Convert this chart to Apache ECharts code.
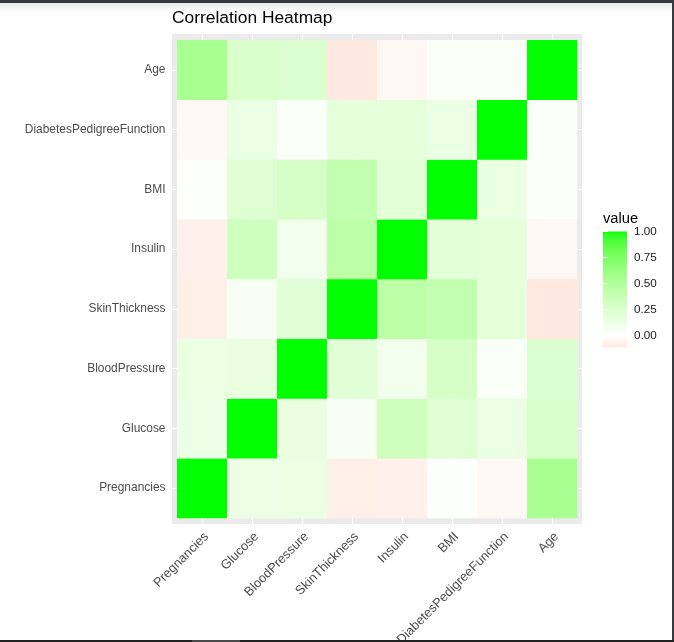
<!DOCTYPE html>
<html>
<head>
<meta charset="utf-8">
<script src="https://cdn.jsdelivr.net/npm/echarts@6/dist/echarts.min.js"></script>
<style>
html,body{margin:0;padding:0;background:#fff;}
#chart{width:674px;height:642px;}
</style>
</head>
<body>
<div id="chart"></div>
<script>
// ---- data ----
const variables = ['Pregnancies','Glucose','BloodPressure','SkinThickness','Insulin','BMI','DiabetesPedigreeFunction','Age'];
const pregnancies   = [1.000, 0.129, 0.141, -0.082, -0.074, 0.018, -0.034,  0.544];
const glucose       = [0.129, 1.000, 0.153,  0.057,  0.331, 0.221,  0.137,  0.264];
const bloodPressure = [0.141, 0.153, 1.000,  0.207,  0.089, 0.282,  0.041,  0.240];
const skinThickness = [-0.082, 0.057, 0.207, 1.000,  0.437, 0.393,  0.184, -0.114];
const insulin       = [-0.074, 0.331, 0.089, 0.437,  1.000, 0.198,  0.185, -0.042];
const bmi           = [0.018, 0.221, 0.282,  0.393,  0.198, 1.000,  0.141,  0.036];
const dpf           = [-0.034, 0.137, 0.041, 0.184,  0.185, 0.141,  1.000,  0.034];
const age           = [0.544, 0.264, 0.240, -0.114, -0.042, 0.036,  0.034,  1.000];
const legendTicks   = [0, 0.25, 0.5, 0.75, 1];

const rows = [pregnancies, glucose, bloodPressure, skinThickness, insulin, bmi, dpf, age];
const cells = [];
rows.forEach((row, yi) => row.forEach((v, xi) => cells.push([xi, yi, v])));
const allVals = cells.map(c => c[2]);
const vMin = Math.min.apply(null, allVals), vMax = Math.max.apply(null, allVals);
const idx = variables.map((_, i) => i);

// ---- colour scale: ggplot2 gradient2 (red - white - green) in Lab ----
function lin(c){c/=255;return c<=0.04045?c/12.92:Math.pow((c+0.055)/1.055,2.4);}
function delin(c){c=c<=0.0031308?12.92*c:1.055*Math.pow(c,1/2.4)-0.055;return Math.max(0,Math.min(255,Math.round(c*255)));}
const WN=[0.95047,1,1.08883];
function f(t){return t>0.008856?Math.cbrt(t):7.787*t+16/116;}
function finv(t){return t*t*t>0.008856?t*t*t:(t-16/116)/7.787;}
function rgb2lab(rgb){
  const r=lin(rgb[0]),g=lin(rgb[1]),b=lin(rgb[2]);
  const X=(0.4124564*r+0.3575761*g+0.1804375*b)/WN[0];
  const Y=(0.2126729*r+0.7151522*g+0.0721750*b)/WN[1];
  const Z=(0.0193339*r+0.1191920*g+0.9503041*b)/WN[2];
  return [116*f(Y)-16,500*(f(X)-f(Y)),200*(f(Y)-f(Z))];
}
function lab2rgb(lab){
  const fy=(lab[0]+16)/116, fx=fy+lab[1]/500, fz=fy-lab[2]/200;
  const X=finv(fx)*WN[0],Y=finv(fy)*WN[1],Z=finv(fz)*WN[2];
  const r=3.2404542*X-1.5371385*Y-0.4985314*Z;
  const g=-0.9692660*X+1.8760108*Y+0.0415560*Z;
  const b=0.0556434*X-0.2040259*Y+1.0572252*Z;
  return 'rgb('+delin(r)+','+delin(g)+','+delin(b)+')';
}
const LOW=rgb2lab([255,0,0]), MID=rgb2lab([255,255,255]), HIGH=rgb2lab([0,255,0]);
function colorAt(v){
  const span = 2*Math.max(Math.abs(vMin), Math.abs(vMax));
  const t = v/span + 0.5;
  let a,b,u;
  if(t<0.5){a=LOW;b=MID;u=t/0.5;} else {a=MID;b=HIGH;u=(t-0.5)/0.5;}
  return lab2rgb([a[0]+(b[0]-a[0])*u,a[1]+(b[1]-a[1])*u,a[2]+(b[2]-a[2])*u]);
}
const N=60;
const scaleColors=[];
for(let i=0;i<N;i++) scaleColors.push(colorAt(vMin+(vMax-vMin)*i/(N-1)));

const FONT='"Liberation Sans", Arial, sans-serif';
const chart = echarts.init(document.getElementById('chart'), null, {renderer:'canvas'});
chart.setOption({
  backgroundColor:'#ffffff',
  animation:false,
  title:{
    text:'Correlation Heatmap', left:172, top:10, padding:0,
    textStyle:{fontSize:17.4, fontWeight:'normal', color:'#000', fontFamily:FONT}
  },
  visualMap:{
    show:false, type:'continuous', min:vMin, max:vMax, dimension:2, seriesIndex:0,
    inRange:{color:scaleColors}
  },
  grid:[
    {left:172, top:34, width:410, height:490, show:true, backgroundColor:'#EBEBEB', borderWidth:0,
     containLabel:false, outerBoundsMode:'none'},
    {left:603, top:231.5, width:24, height:116, show:false, containLabel:false, outerBoundsMode:'none'}
  ],
  xAxis:[
    {gridIndex:0, type:'value', min:-0.6, max:7.6,
     axisLine:{show:false},
     axisTick:{show:true, length:4, customValues:idx, lineStyle:{color:'#333333', width:1}},
     axisLabel:{customValues:idx, rotate:45, margin:6, align:'right', verticalAlign:'top',
                color:'#4D4D4D', fontSize:12.9, fontFamily:FONT,
                formatter:v=>variables[Math.round(v)]},
     splitLine:{show:true, lineStyle:{color:'#ffffff', width:1.1}}},
    {gridIndex:1, type:'value', min:0, max:1, show:false}
  ],
  yAxis:[
    {gridIndex:0, type:'value', min:-0.6, max:7.6,
     axisLine:{show:false},
     axisTick:{show:true, length:4, customValues:idx, lineStyle:{color:'#333333', width:1}},
     axisLabel:{customValues:idx, margin:6.5, color:'#4D4D4D', fontSize:11.95, fontFamily:FONT,
                formatter:v=>variables[Math.round(v)]},
     splitLine:{show:true, lineStyle:{color:'#ffffff', width:1.1}}},
    {gridIndex:1, type:'value', min:vMin, max:vMax, position:'right', z:10,
     axisLine:{show:false},
     axisTick:{show:true, inside:true, length:5, customValues:legendTicks, lineStyle:{color:'#ffffff', width:1}},
     axisLabel:{customValues:legendTicks, margin:7, color:'#1A1A1A', fontSize:11.7, fontFamily:FONT,
                formatter:v=>v.toFixed(2)},
     splitLine:{show:false}},
    {gridIndex:1, type:'value', min:vMin, max:vMax, position:'left', z:10,
     axisLine:{show:false},
     axisTick:{show:true, inside:true, length:5, customValues:legendTicks, lineStyle:{color:'#ffffff', width:1}},
     axisLabel:{show:false},
     splitLine:{show:false}}
  ],
  series:[
    {type:'custom', xAxisIndex:0, yAxisIndex:0, data:cells, z:2,
     renderItem:function(params, api){
       const c=api.coord([api.value(0), api.value(1)]);
       const s=api.size([1,1]);
       return {type:'rect', shape:{x:c[0]-s[0]/2, y:c[1]-s[1]/2, width:s[0]+0.3, height:s[1]+0.3},
               style:{fill:api.visual('color')}};
     }},
    {type:'custom', xAxisIndex:1, yAxisIndex:1, data:[[0]], z:2, silent:true,
     renderItem:function(params, api){
       const p1=api.coord([0, vMax]);
       const p2=api.coord([1, vMin]);
       const stops=scaleColors.map((c,i)=>({offset:i/(scaleColors.length-1), color:c}));
       return {type:'rect', shape:{x:p1[0], y:p1[1], width:p2[0]-p1[0], height:p2[1]-p1[1]},
               style:{fill:new echarts.graphic.LinearGradient(0,1,0,0,stops)}};
     }}
  ],
  graphic:[
    {type:'text', left:603, top:211, silent:true,
     style:{text:'value', fontSize:14.7, fill:'#000', fontFamily:FONT}},
    {type:'rect', left:0, top:0, silent:true, z:100, shape:{width:674, height:3}, style:{fill:'#36393d'}},
    {type:'rect', left:0, top:3, silent:true, z:100, shape:{width:672, height:10},
     style:{fill:new echarts.graphic.LinearGradient(0,0,0,1,[{offset:0,color:'rgba(0,0,0,0.08)'},{offset:1,color:'rgba(0,0,0,0)'}])}},
    {type:'rect', left:672, top:0, silent:true, z:100, shape:{width:2, height:642}, style:{fill:'#36393d'}},
    {type:'rect', left:0, top:640, silent:true, z:100, shape:{width:674, height:2}, style:{fill:'#222222'}},
    {type:'rect', left:192, top:640, silent:true, z:101, shape:{width:48, height:2}, style:{fill:'#4a4a4a'}}
  ]
});
</script>
</body>
</html>
